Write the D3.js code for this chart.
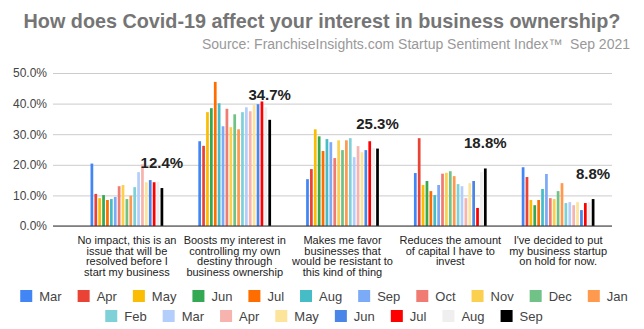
<!DOCTYPE html>
<html>
<head>
<meta charset="utf-8">
<script src="https://cdn.jsdelivr.net/npm/d3@7"></script>
<style>
  html, body { margin: 0; padding: 0; background: #fff; }
  svg { display: block; font-family: Arial, "Liberation Sans", sans-serif; }
</style>
</head>
<body>
<svg id="chart" width="644" height="329"></svg>
<script>
// Survey answer categories (x axis), each label split into lines
const categories = [
  ["No impact, this is an", "issue that will be", "resolved before I", "start my business"],
  ["Boosts my interest in", "controlling my own", "destiny through", "business ownership"],
  ["Makes me favor", "businesses that", "would be resistant to", "this kind of thing"],
  ["Reduces the amount", "of capital I have to", "invest"],
  ["I've decided to put", "my business startup", "on hold for now."]
];

// Monthly survey waves, Mar 2020 through Sep 2021
const months = ["Mar", "Apr", "May", "Jun", "Jul", "Aug", "Sep", "Oct", "Nov", "Dec", "Jan",
                "Feb", "Mar", "Apr", "May", "Jun", "Jul", "Aug", "Sep"];

const monthColors = ["#4285F4", "#EA4335", "#FBBC04", "#34A853", "#FF6D01", "#46BDC6", "#7BAAF7",
                     "#F07B72", "#FCD04F", "#71C287", "#FF994D", "#7ED1D7", "#B3CEFB", "#F7B4AE",
                     "#FDE49B", "#4A86E8", "#FF0000", "#EFEFEF", "#000000"];

// Share of respondents (%) per wave, one value per category
const seriesValues = [
  [20.4, 27.7, 15.3, 17.3, 19.2],
  [10.5, 26.2, 18.6, 28.7, 16.0],
  [9.1, 37.2, 31.6, 13.4, 8.5],
  [10.1, 38.5, 29.3, 14.7, 6.8],
  [8.5, 47.1, 24.5, 11.4, 8.5],
  [8.8, 40.1, 28.4, 10.1, 12.1],
  [9.5, 32.6, 27.4, 13.4, 17.0],
  [13.0, 38.3, 22.2, 17.1, 9.1],
  [13.4, 32.3, 28.0, 17.4, 8.8],
  [8.8, 36.5, 24.8, 17.9, 11.4],
  [9.9, 31.6, 28.0, 16.3, 14.0],
  [12.7, 37.2, 28.7, 13.7, 7.5],
  [17.6, 38.8, 22.5, 13.0, 7.8],
  [20.1, 37.5, 26.1, 9.1, 6.8],
  [14.3, 39.5, 24.1, 14.0, 7.8],
  [15.0, 39.8, 24.8, 14.7, 5.2],
  [14.3, 40.7, 27.7, 5.9, 7.5],
  [14.5, 38.8, 25.5, 17.6, 7.8],
  [12.4, 34.7, 25.3, 18.8, 8.8]
];

const yTicks = [0, 10, 20, 30, 40, 50];

const title = "How does Covid-19 affect your interest in business ownership?";
const subtitle = "Source: FranchiseInsights.com Startup Sentiment Index\u2122\u00a0 Sep 2021";

const svg = d3.select("#chart");

const plot = { left: 73, right: 612, top: 73, bottom: 226, gridLeft: 53 };

const x0 = d3.scaleBand()
  .domain(d3.range(categories.length))
  .range([plot.left, plot.right])
  .paddingInner(0.318)
  .paddingOuter(0.159);

const x1 = d3.scaleBand()
  .domain(d3.range(months.length))
  .range([0, x0.bandwidth()])
  .paddingInner(0.3)
  .paddingOuter(0.1);

const y = d3.scaleLinear().domain([0, 50]).range([plot.bottom, plot.top]);

// Title and source line
svg.append("text")
  .attr("x", 322).attr("y", 27.5)
  .attr("text-anchor", "middle")
  .attr("font-size", 19.8).attr("font-weight", "bold")
  .attr("fill", "#757575")
  .text(title);

svg.append("text")
  .attr("x", 630).attr("y", 49)
  .attr("text-anchor", "end")
  .attr("font-size", 14)
  .attr("fill", "#999999")
  .text(subtitle);

// Horizontal gridlines and percentage labels
const yAxis = d3.axisLeft(y)
  .tickValues(yTicks)
  .tickSize(-(plot.right - plot.gridLeft))
  .tickPadding(6)
  .tickFormat(d => d.toFixed(1) + "%");

const yg = svg.append("g")
  .attr("transform", `translate(${plot.gridLeft},0)`)
  .call(yAxis);
yg.select(".domain").remove();
yg.selectAll(".tick line").attr("stroke", "#cccccc").attr("stroke-width", 1);
yg.selectAll(".tick text")
  .attr("font-size", 12).attr("fill", "#444444")
  .attr("font-family", "Arial, 'Liberation Sans', sans-serif");

// Bars, grouped by category
const groups = svg.append("g").selectAll("g")
  .data(categories)
  .join("g")
  .attr("transform", (d, i) => `translate(${x0(i)},0)`);

groups.selectAll("rect")
  .data((d, ci) => seriesValues.map((vals, si) => ({ si, v: vals[ci] })))
  .join("rect")
  .attr("x", d => x1(d.si))
  .attr("width", x1.bandwidth())
  .attr("y", d => y(d.v))
  .attr("height", d => y(0) - y(d.v))
  .attr("fill", d => monthColors[d.si]);

// Value labels for the latest wave
const last = seriesValues.length - 1;
groups.append("text")
  .attr("x", x1(last) + x1.bandwidth() / 2)
  .attr("y", (d, ci) => y(seriesValues[last][ci]) - 20)
  .attr("text-anchor", "middle")
  .attr("font-size", 15).attr("font-weight", "bold")
  .attr("fill", "#222222")
  .text((d, ci) => seriesValues[last][ci].toFixed(1) + "%");

// Zero baseline
svg.append("line")
  .attr("x1", plot.gridLeft).attr("x2", plot.right)
  .attr("y1", y(0)).attr("y2", y(0))
  .attr("stroke", "#333333").attr("stroke-width", 1);

// Category labels under each group
const catLabels = svg.append("g").selectAll("text")
  .data(categories)
  .join("text")
  .attr("text-anchor", "middle")
  .attr("font-size", 11)
  .attr("fill", "#222222")
  .attr("transform", (d, i) => `translate(${x0(i) + x0.bandwidth() / 2},244)`);
catLabels.selectAll("tspan")
  .data(d => d)
  .join("tspan")
  .attr("x", 0)
  .attr("y", (d, i) => i * 10.6)
  .text(d => d);

// Legend, wrapped into two centred rows
const legendRows = [d3.range(0, 11), d3.range(11, 19)];
const rowY = [296, 316];
const sw = 12, textGap = 7, itemGap = 16;
legendRows.forEach((row, r) => {
  const g = svg.append("g");
  let cx = 0;
  row.forEach(si => {
    const item = g.append("g").attr("transform", `translate(${cx},0)`);
    item.append("rect")
      .attr("x", 0).attr("y", rowY[r] - sw / 2)
      .attr("width", sw).attr("height", sw)
      .attr("fill", monthColors[si]);
    const t = item.append("text")
      .attr("x", sw + textGap).attr("y", rowY[r] + 4.5)
      .attr("font-size", 13).attr("fill", "#444444")
      .text(months[si]);
    cx += sw + textGap + t.node().getComputedTextLength() + itemGap;
  });
  const total = cx - itemGap;
  g.attr("transform", `translate(${324 - total / 2},0)`);
});
</script>
</body>
</html>
